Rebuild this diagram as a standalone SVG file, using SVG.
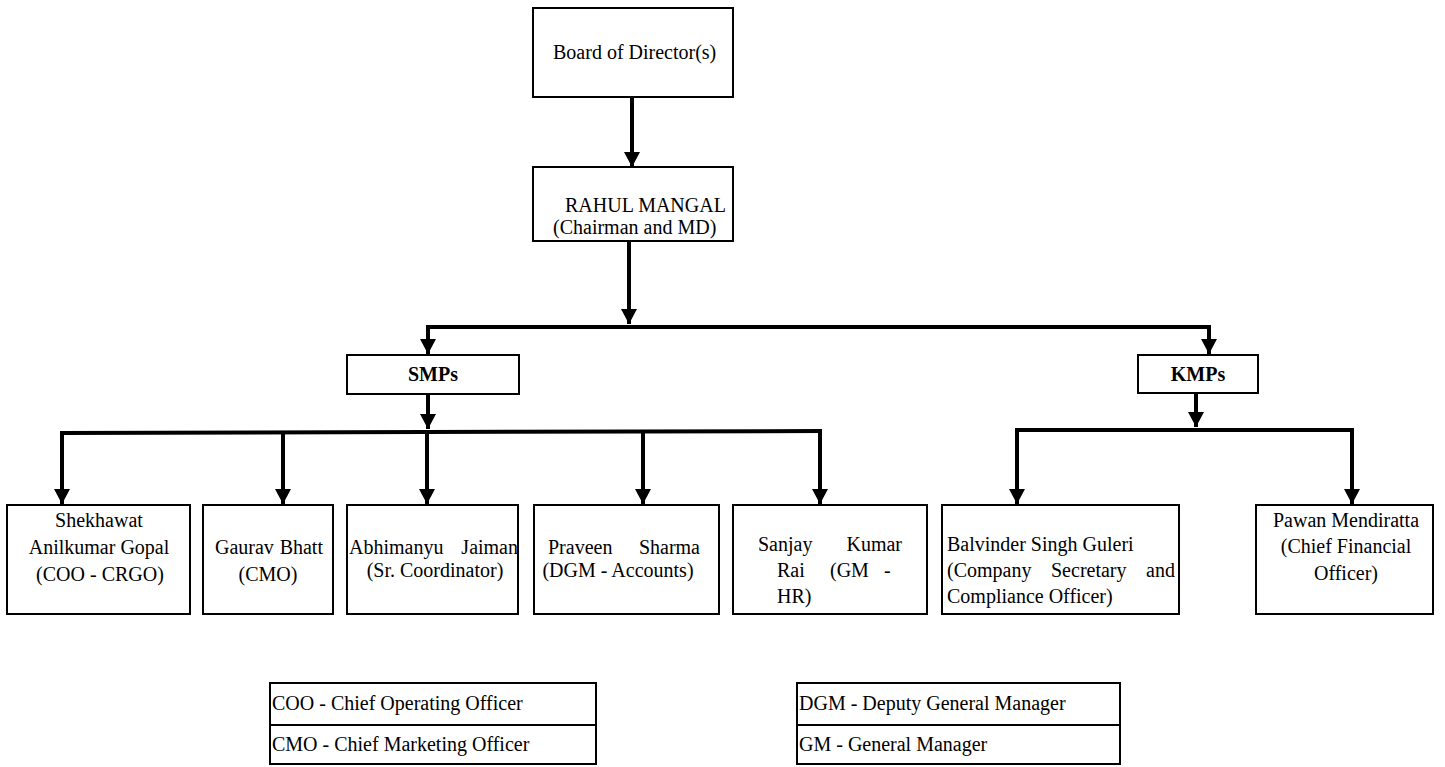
<svg xmlns="http://www.w3.org/2000/svg" width="1445" height="767" viewBox="0 0 1445 767">
<style>
  .box { fill: #ffffff; stroke: #000000; stroke-width: 2; }
  .t { font-family: "Liberation Serif", "Times New Roman", serif; font-size: 20px; fill: #000000; }
  .b { font-weight: bold; }
  .c { text-anchor: middle; }
  .e { text-anchor: end; }
  .conn { fill: none; stroke: #000000; stroke-width: 4; stroke-linejoin: miter; stroke-linecap: square; }
  .arr { fill: none; stroke: #000000; stroke-width: 4; marker-end: url(#ah); }
</style>
<defs>
  <marker id="ah" markerUnits="userSpaceOnUse" markerWidth="16" markerHeight="16" refX="15" refY="8" orient="auto" viewBox="0 0 16 16">
    <path d="M0,0 L15,8 L0,16 z" fill="#000000"/>
  </marker>
</defs>
<rect width="1445" height="767" fill="#ffffff"/>

<g id="connectors">
  <path class="arr" d="M632,97 L632,167"/>
  <path class="arr" d="M629,241 L629,324"/>
  <path class="conn" d="M428,327 L1209,327"/>
  <path class="arr" d="M428,327 L428,354"/>
  <path class="arr" d="M1209,327 L1209,354"/>
  <path class="arr" d="M428,394 L428,429"/>
  <path class="arr" d="M1196,393 L1196,427"/>
  <path class="conn" d="M62,433 L820,431"/>
  <path class="conn" d="M1017,430 L1352,430"/>
  <path class="arr" d="M62,433 L62,504"/>
  <path class="arr" d="M283,432 L283,504"/>
  <path class="arr" d="M427,432 L427,504"/>
  <path class="arr" d="M643,432 L643,504"/>
  <path class="arr" d="M820,431 L820,504"/>
  <path class="arr" d="M1017,430 L1017,504"/>
  <path class="arr" d="M1352,430 L1352,504"/>
</g>

<g id="board">
  <rect class="box" x="533" y="8" width="200" height="89"/>
  <text class="t" x="553" y="59">Board of Director(s)</text>
</g>

<g id="rahul">
  <rect class="box" x="533" y="167" width="200" height="74"/>
  <text class="t" x="565" y="212">RAHUL MANGAL</text>
  <text class="t" x="553" y="234">(Chairman and MD)</text>
</g>

<g id="smps">
  <rect class="box" x="347" y="355" width="172" height="39"/>
  <text class="t b c" x="433" y="381">SMPs</text>
</g>

<g id="kmps">
  <rect class="box" x="1138" y="355" width="120" height="38"/>
  <text class="t b c" x="1198" y="381">KMPs</text>
</g>

<g id="shekhawat">
  <rect class="box" x="7" y="505" width="183" height="109"/>
  <text class="t c" x="99" y="527">Shekhawat</text>
  <text class="t c" x="99" y="554">Anilkumar Gopal</text>
  <text class="t c" x="100" y="581">(COO - CRGO)</text>
</g>

<g id="gaurav">
  <rect class="box" x="203" y="505" width="130" height="109"/>
  <text class="t" x="215" y="554">Gaurav</text>
  <text class="t e" x="323" y="554">Bhatt</text>
  <text class="t c" x="268" y="581">(CMO)</text>
</g>

<g id="abhimanyu">
  <rect class="box" x="347" y="505" width="171" height="109"/>
  <text class="t" x="349" y="554">Abhimanyu</text>
  <text class="t e" x="518" y="554">Jaiman</text>
  <text class="t c" x="435" y="577">(Sr. Coordinator)</text>
</g>

<g id="praveen">
  <rect class="box" x="534" y="505" width="185" height="109"/>
  <text class="t" x="548" y="554">Praveen</text>
  <text class="t e" x="700" y="554">Sharma</text>
  <text class="t c" x="618" y="577">(DGM - Accounts)</text>
</g>

<g id="sanjay">
  <rect class="box" x="733" y="505" width="194" height="109"/>
  <text class="t" x="758" y="551">Sanjay</text>
  <text class="t e" x="902" y="551">Kumar</text>
  <text class="t" x="777" y="577">Rai</text>
  <text class="t" x="830" y="577">(GM</text>
  <text class="t" x="884" y="577">-</text>
  <text class="t" x="777" y="603">HR)</text>
</g>

<g id="balvinder">
  <rect class="box" x="942" y="505" width="237" height="109"/>
  <text class="t" x="947" y="551">Balvinder Singh Guleri</text>
  <text class="t" x="947" y="577">(Company</text>
  <text class="t" x="1051" y="577">Secretary</text>
  <text class="t e" x="1175" y="577">and</text>
  <text class="t" x="947" y="603">Compliance Officer)</text>
</g>

<g id="pawan">
  <rect class="box" x="1256" y="505" width="177" height="109"/>
  <text class="t c" x="1346" y="527">Pawan Mendiratta</text>
  <text class="t c" x="1346" y="553">(Chief Financial</text>
  <text class="t c" x="1346" y="580">Officer)</text>
</g>

<g id="legend-left">
  <rect class="box" x="270" y="683" width="326" height="81"/>
  <line x1="270" y1="725" x2="596" y2="725" stroke="#000" stroke-width="2"/>
  <text class="t" x="272" y="710">COO - Chief Operating Officer</text>
  <text class="t" x="272" y="751">CMO - Chief Marketing Officer</text>
</g>

<g id="legend-right">
  <rect class="box" x="797" y="683" width="323" height="81"/>
  <line x1="797" y1="725" x2="1120" y2="725" stroke="#000" stroke-width="2"/>
  <text class="t" x="799" y="710">DGM - Deputy General Manager</text>
  <text class="t" x="799" y="751">GM - General Manager</text>
</g>
</svg>
